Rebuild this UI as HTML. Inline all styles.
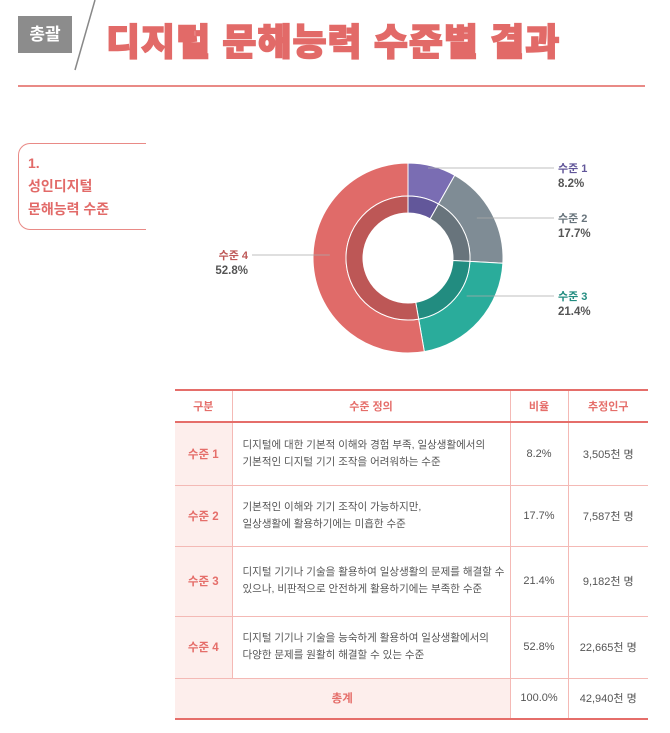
<!DOCTYPE html>
<html><head><meta charset="utf-8">
<style>
*{margin:0;padding:0;box-sizing:border-box}
body{width:670px;height:733px;background:#fff;position:relative;overflow:hidden;font-family:"Liberation Sans","Noto Sans CJK KR",sans-serif}
.a{position:absolute}
.tb{position:absolute;left:175px;top:389px;width:473px;border-collapse:collapse;font-size:11px;color:#555}
.tb td{border:1px solid #f4b9b5;text-align:center;vertical-align:middle}
.tb tr:first-child td{border-top:2px solid #e56e6a;border-bottom:2px solid #e56e6a;color:#e56e6a;font-weight:bold;height:32px}
.tb td:first-child{border-left:none}
.tb td:last-child{border-right:none}
.tb .lv{background:#fdeeec;color:#e56e6a;font-weight:bold;font-size:11.5px}
.tb .df{text-align:left;padding-left:10px;line-height:17px;font-size:10.5px}
.tb tr:last-child td{border-bottom:2px solid #e56e6a}
</style></head><body>
<div class="a" style="left:18px;top:16px;width:54px;height:37px;background:#8c8c8c;color:#fff;font-weight:bold;font-size:17px;line-height:37px;text-align:center">총괄</div>
<svg class="a" style="left:0;top:0" width="100" height="75"><line x1="95" y1="0" x2="75" y2="70" stroke="#888" stroke-width="1.5"/></svg>
<div class="a" style="left:106px;top:12px;font-size:37px;font-weight:900;color:#e26a68;letter-spacing:1px;white-space:nowrap;-webkit-text-stroke:1.5px #e26a68">디지털 문해능력 수준별 결과</div>
<div class="a" style="left:18px;top:85px;width:627px;height:2px;background:#e98a86"></div>
<div class="a" style="left:18px;top:143px;width:128px;height:87px;border:1.5px solid #e98a86;border-right:none;border-radius:12px 0 0 12px;color:#e26a68;font-weight:bold;font-size:14px;line-height:23px;padding:8px 0 0 9px">1.<br>성인디지털<br>문해능력 수준</div>
<svg class="a" id="donut" style="left:0;top:0" width="670" height="380"></svg>
<table class="tb">
<tr><td style="width:57px">구분</td><td style="width:278px">수준 정의</td><td style="width:58px">비율</td><td>추정인구</td></tr>
<tr style="height:63px"><td class="lv">수준 1</td><td class="df">디지털에 대한 기본적 이해와 경험 부족, 일상생활에서의<br>기본적인 디지털 기기 조작을 어려워하는 수준</td><td>8.2%</td><td>3,505천 명</td></tr>
<tr style="height:61px"><td class="lv">수준 2</td><td class="df">기본적인 이해와 기기 조작이 가능하지만,<br>일상생활에 활용하기에는 미흡한 수준</td><td>17.7%</td><td>7,587천 명</td></tr>
<tr style="height:70px"><td class="lv">수준 3</td><td class="df">디지털 기기나 기술을 활용하여 일상생활의 문제를 해결할 수<br>있으나, 비판적으로 안전하게 활용하기에는 부족한 수준</td><td>21.4%</td><td>9,182천 명</td></tr>
<tr style="height:62px"><td class="lv">수준 4</td><td class="df">디지털 기기나 기술을 능숙하게 활용하여 일상생활에서의<br>다양한 문제를 원활히 해결할 수 있는 수준</td><td>52.8%</td><td>22,665천 명</td></tr>
<tr style="height:41px"><td colspan="2" class="lv">총계</td><td>100.0%</td><td>42,940천 명</td></tr>
</table>
<script>
const labels=["수준 1","수준 2","수준 3","수준 4"];
const values=[8.2,17.7,21.4,52.8];
const colors=["#7a6db3","#7f8c95","#2aac9b","#e06b69"];
const darks=["#62579a","#68747c","#228c80","#bd5756"];
const svg=document.getElementById('donut');
const NS="http://www.w3.org/2000/svg";
const cx=408,cy=258,R=95,Rm=62,Ri=45;
const total=values.reduce((a,b)=>a+b,0);
function pt(r,f){const a=f*2*Math.PI-Math.PI/2;return [cx+r*Math.cos(a),cy+r*Math.sin(a)];}
function arc(r1,r2,f0,f1){const l=(f1-f0)>0.5?1:0;const a=pt(r2,f0),b=pt(r2,f1),c=pt(r1,f1),d=pt(r1,f0);
return `M${a}A${r2},${r2} 0 ${l} 1 ${b}L${c}A${r1},${r1} 0 ${l} 0 ${d}Z`;}
let acc=0;
const labelPos=[[558,172,"start"],[558,222,"start"],[558,300,"start"],[248,259,"end"]];
values.forEach((v,i)=>{
 const f0=acc/total,f1=(acc+v)/total;acc+=v;
 const p=document.createElementNS(NS,'path');p.setAttribute('d',arc(Rm,R,f0,f1));p.setAttribute('fill',colors[i]);p.setAttribute('stroke','#fff');p.setAttribute('stroke-width','1');
 
 svg.appendChild(p);
 const q=document.createElementNS(NS,'path');q.setAttribute('d',arc(Ri,Rm,f0,f1));q.setAttribute('fill',darks[i]);q.setAttribute('stroke','#fff');q.setAttribute('stroke-width','1');
 
 svg.appendChild(q);
 const m=pt((R+Rm)/2,(f0+f1)/2);const [lx,ly,an]=labelPos[i];
 const ln=document.createElementNS(NS,'line');ln.setAttribute('x1',m[0]);ln.setAttribute('y1',ly-4);ln.setAttribute('x2',an==='start'?lx-4:lx+4);ln.setAttribute('y2',ly-4);ln.setAttribute('stroke','#aaa');ln.setAttribute('stroke-width','0.8');
 
 svg.appendChild(ln);
 const t=document.createElementNS(NS,'text');t.setAttribute('x',lx);t.setAttribute('y',ly);t.setAttribute('text-anchor',an);t.setAttribute('font-size','11');t.setAttribute('font-weight','bold');t.setAttribute('fill',darks[i]);t.textContent=labels[i];
 
 svg.appendChild(t);
 const t2=document.createElementNS(NS,'text');t2.setAttribute('x',lx);t2.setAttribute('y',ly+15);t2.setAttribute('text-anchor',an);t2.setAttribute('font-size','11.5');t2.setAttribute('font-weight','bold');t2.setAttribute('fill','#555');t2.textContent=v.toFixed(1)+'%';
 
 svg.appendChild(t2);
});
</script>
</body></html>
